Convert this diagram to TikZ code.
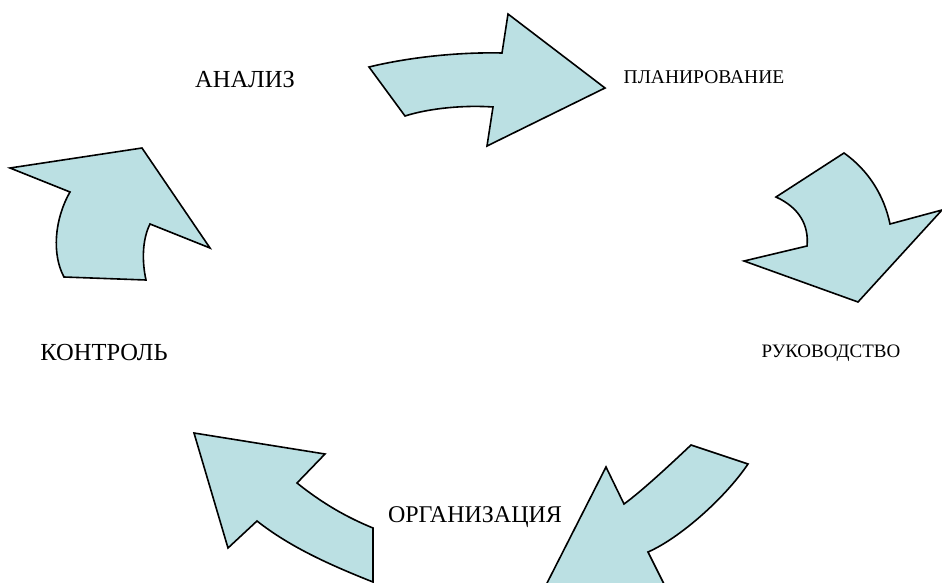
\documentclass[tikz,border=0pt]{standalone}
\usepackage{fontspec}
\setmainfont{Liberation Serif}
\definecolor{arrowfill}{HTML}{BBE0E3}
\tikzset{
  bigarrow/.style={draw=black, fill=arrowfill, line width=1.6pt, line join=miter},
  lbl/.style={anchor=base, inner sep=0pt, text=black}
}
\begin{document}
\begin{tikzpicture}[x=1pt,y=-1pt]
\useasboundingbox (0,0) rectangle (942,583);
\clip (0,0) rectangle (942,583);
% top arrow
\path[bigarrow] (369,67) .. controls (410,57) and (460,52) .. (502,53) -- (508,14) -- (605,88) -- (487,146) -- (493,107) .. controls (465,105) and (430,108) .. (405,116) -- cycle;
% right arrow
\path[bigarrow] (844,153) .. controls (868,170) and (884,195) .. (890,224) -- (942,210) -- (858,302) -- (744,261) -- (807,246) .. controls (809,226) and (800,208) .. (776,197) -- cycle;
% bottom right arrow
\path[bigarrow] (691,445) -- (748,464) .. controls (725,498) and (680,538) .. (648,552) -- (697,650) -- (513,650) -- (606,467) -- (624,504) .. controls (642,491) and (673,462) .. (691,445) -- cycle;
% bottom left arrow
\path[bigarrow] (194,433) -- (325,454) -- (297,483) .. controls (322,503) and (346,517) .. (373,528) -- (373,582) .. controls (330,565) and (290,547) .. (257,521) -- (228,548) -- cycle;
% left arrow
\path[bigarrow] (10,168) -- (142,148) -- (210,248) -- (150,224) .. controls (142,240) and (142,262) .. (146,280) -- (64,277) .. controls (52,255) and (54,220) .. (70,192) -- cycle;
% labels
\node[lbl, font=\fontsize{24.5}{29}\selectfont] (analiz) at (245,88) {АНАЛИЗ};
\node[lbl, font=\fontsize{19.5}{23}\selectfont] (plan) at (704,84) {ПЛАНИРОВАНИЕ};
\node[lbl, font=\fontsize{19}{23}\selectfont] (ruk) at (831,357) {РУКОВОДСТВО};
\node[lbl, font=\fontsize{24.5}{29}\selectfont] (kontrol) at (104,360) {КОНТРОЛЬ};
\node[lbl, font=\fontsize{24}{29}\selectfont] (org) at (475,522) {ОРГАНИЗАЦИЯ};
\end{tikzpicture}
\end{document}
